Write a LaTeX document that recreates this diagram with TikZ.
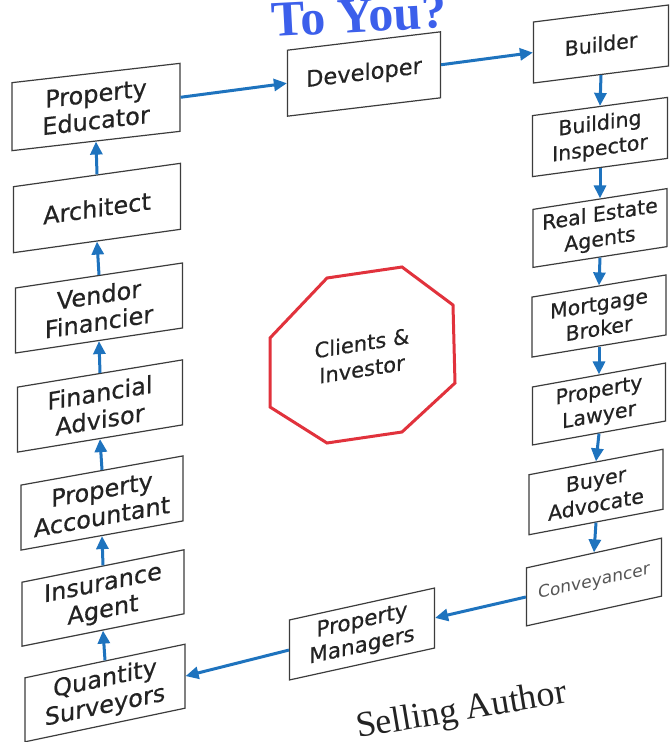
\documentclass[tikz,border=0pt]{standalone}
\usepackage{fontspec}
\setmainfont{DejaVu Sans}
\newfontfamily\boxface{DejaVu Sans}[FakeBold=0.5]
\newfontfamily\serifface{Liberation Serif}
\usetikzlibrary{arrows.meta}
\definecolor{arrowblue}{RGB}{30,115,190}
\definecolor{boxgray}{RGB}{60,60,60}
\definecolor{txtgray}{RGB}{35,35,35}
\definecolor{octred}{RGB}{225,50,60}
\definecolor{titleblue}{RGB}{60,95,235}
\definecolor{convgray}{RGB}{85,85,85}
\begin{document}
\begin{tikzpicture}[x=1pt,y=-1pt,
  bx/.style args={#1/#2/#3}{draw=boxgray, line width=1.2pt, fill=white, inner sep=0pt,
     align=center, text=txtgray, minimum width=#1pt, minimum height=#2pt, yslant=#3},
  lf/.style={font=\boxface\fontsize{24}{27}\selectfont},
  mf/.style={font=\boxface\fontsize{22.5}{26}\selectfont},
  rf/.style={font=\boxface\fontsize{20.5}{25}\selectfont},
  arr/.style={draw=arrowblue, line width=3pt, -{Triangle[length=13pt,width=12pt]}}]
\fill[white] (0,0) rectangle (670,742);
\useasboundingbox (0,0) rectangle (670,742);
\clip (0,0) rectangle (670,742);

% title (cut at top) and bottom caption
\node[anchor=base, text=titleblue, font=\serifface\bfseries\fontsize{50}{52}\selectfont, rotate=3, inner sep=0pt] (title) at (360,32) {To You?};
\node[anchor=base west, text=txtgray, font=\serifface\fontsize{36}{40}\selectfont, rotate=9.5, inner sep=0pt] (author) at (358,738) {Selling Author};

% left column
\node[bx=168/68/0.115, lf] (pe) at (96,107) {Property\\Educator};
\node[bx=167/66/0.14,  lf] (ar) at (97,208) {Architect};
\node[bx=167/65/0.15,  lf] (vf) at (99,308) {Vendor\\Financier};
\node[bx=165/65/0.165, lf] (fa) at (100,406) {Financial\\Advisor};
\node[bx=162/65/0.18,  lf] (pa) at (102,503) {Property\\Accountant};
\node[bx=162/64/0.2,   lf] (ia) at (103,598) {Insurance\\Agent};
\node[bx=160/64/0.21,  lf] (qs) at (105,693) {Quantity\\Surveyors};

% middle
\node[bx=153/66/0.12, mf] (dev) at (364,74) {Developer};
\node[bx=145/60/0.22, font=\boxface\fontsize{21.5}{25}\selectfont] (pm) at (362,634) {Property\\Managers};

% right column
\node[bx=135/61/0.126, rf] (bu) at (601,44) {Builder};
\node[bx=135/61/0.135, rf] (bi) at (600,137) {Building\\Inspector};
\node[bx=134/58/0.155, rf] (re) at (600,228) {Real Estate\\Agents};
\node[bx=134/60/0.165, rf] (mb) at (599,316) {Mortgage\\Broker};
\node[bx=133/58/0.18,  rf] (pl) at (599,404) {Property\\Lawyer};
\node[bx=134/60/0.19,  rf] (ba) at (596,492) {Buyer\\Advocate};
\node[bx=135/58/0.22, text=convgray, font=\fontsize{17}{20}\selectfont] (cv) at (594,582) {Conveyancer};

% centre octagon
\coordinate (o1) at (327,278);
\coordinate (o2) at (402,267);
\coordinate (o3) at (453,305);
\coordinate (o4) at (455,383);
\coordinate (o5) at (402,432);
\coordinate (o6) at (327,443);
\coordinate (o7) at (270,407);
\coordinate (o8) at (270,338);
\draw[octred, line width=3pt, line join=miter] (o1) -- (o2) -- (o3) -- (o4) -- (o5) -- (o6) -- (o7) -- (o8) -- cycle;
\node[align=center, text=txtgray, inner sep=0pt, yslant=0.16, font=\boxface\fontsize{21}{26}\selectfont] (ci) at (362,356) {Clients \&\\Investor};

% connectors
\draw[arr] (pe.east) -- (dev.west);
\draw[arr] (dev.east) -- (bu.west);
\draw[arr] (bu.south) -- (bi.north);
\draw[arr] (bi.south) -- (re.north);
\draw[arr] (re.south) -- (mb.north);
\draw[arr] (mb.south) -- (pl.north);
\draw[arr] (pl.south) -- (ba.north);
\draw[arr] (ba.south) -- (cv.north);
\draw[arr] (cv.west) -- (pm.east);
\draw[arr] (pm.west) -- (qs.east);
\draw[arr] (qs.north) -- (ia.south);
\draw[arr] (ia.north) -- (pa.south);
\draw[arr] (pa.north) -- (fa.south);
\draw[arr] (fa.north) -- (vf.south);
\draw[arr] (vf.north) -- (ar.south);
\draw[arr] (ar.north) -- (pe.south);
\end{tikzpicture}
\end{document}
